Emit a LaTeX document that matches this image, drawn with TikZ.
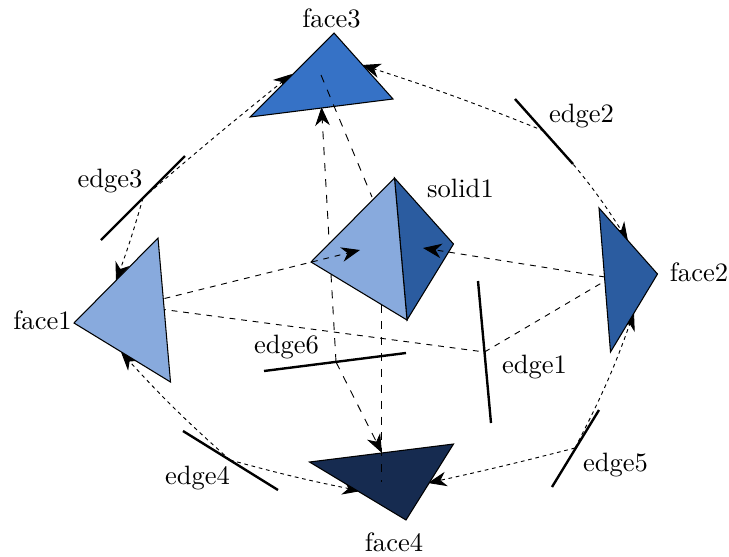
\documentclass[tikz,border=0pt]{standalone}
\usetikzlibrary{arrows.meta,calc}
\definecolor{flight}{HTML}{88AADD}
\definecolor{fmid}{HTML}{2B5CA0}
\definecolor{fbright}{HTML}{3672C6}
\definecolor{fdark}{HTML}{162B50}
\tikzset{
  facepoly/.style={draw=black,line width=0.4pt,line join=miter},
  edgeline/.style={draw=black,line width=0.9pt},
  tipped/.style={-{Stealth[length=7pt,width=5.5pt,inset=2.2pt]}},
  finedash/.style={line width=0.35pt,dash pattern=on 1.4pt off 1.4pt},
  middash/.style={line width=0.35pt,dash pattern=on 2.2pt off 2.2pt},
  longdash/.style={line width=0.35pt,dash pattern=on 3pt off 3pt},
  lab/.style={inner sep=0pt,font=\fontsize{10}{12}\selectfont}
}
\begin{document}
\begin{tikzpicture}[x=0.3765pt,y=-0.3765pt]
\useasboundingbox (0,0) rectangle (729,556);
% edge end points and midpoints
\coordinate (e1a) at (478,281); \coordinate (e1b) at (491,423); \coordinate (e1m) at (484.5,352);
\coordinate (e2a) at (515,99);  \coordinate (e2b) at (573,164); \coordinate (e2m) at (544,131);
\coordinate (e3a) at (101,240); \coordinate (e3b) at (185,156); \coordinate (e3m) at (143,198);
\coordinate (e4a) at (183,431); \coordinate (e4b) at (278,490); \coordinate (e4m) at (230,460);
\coordinate (e5a) at (552,487); \coordinate (e5b) at (599,410); \coordinate (e5m) at (575,448);
\coordinate (e6a) at (264,371); \coordinate (e6b) at (406,353); \coordinate (e6m) at (336,362);
% anchor points on faces
\coordinate (f1tipa) at (116,281); \coordinate (f1tipb) at (121,352);
\coordinate (f1s) at (164.5,298.5);    \coordinate (f1e) at (160,309);
\coordinate (f2tipa) at (628,241); \coordinate (f2tipb) at (634,312);
\coordinate (f2s) at (605,277);    \coordinate (f2e) at (610,278);
\coordinate (f3tipa) at (292,74);  \coordinate (f3tipb) at (362,65); \coordinate (f3tipc) at (321.5,107);
\coordinate (f3c) at (321,75);
\coordinate (f4tipa) at (361,491); \coordinate (f4tipb) at (428,483); \coordinate (f4tipc) at (382,453);
\coordinate (f4c) at (381.5,482);
\coordinate (s1tipa) at (360,250); \coordinate (s1tipb) at (423,248);
\coordinate (s1t) at (372,197);    \coordinate (s1b) at (381.5,305);
% connectors below the faces
\draw[finedash,tipped] (e3m) to[bend left=1] (f3tipa);
\draw[finedash,tipped] (e3m) to[bend left=2] (f1tipa);
\draw[finedash,tipped] (e2m) to[bend right=2] (f3tipb);
\draw[finedash,tipped] (e2m) to[bend left=5] (f2tipa);
\draw[finedash,tipped] (e5m) to[bend right=4] (f2tipb);
\draw[finedash,tipped] (e5m) to[bend left=1] (f4tipb);
\draw[finedash,tipped] (e4m) to[bend left=3] (f1tipb);
\draw[finedash,tipped] (e4m) to[bend right=2] (f4tipa);
\draw[middash] (f1e) -- (e1m);
\draw[middash] (e1m) -- (f2e);
\draw[longdash,tipped] (e6m) -- (f3tipc);
\draw[longdash,tipped] (e6m) -- (f4tipc);
% faces
\fill[fbright] (334,33) -- (393,99) -- (250,117) -- cycle;
\draw[facepoly] (334,33) -- (393,99) -- (250,117) -- cycle;
\fill[flight] (158,238) -- (170.5,382) -- (74,323) -- cycle;
\draw[facepoly] (158,238) -- (170.5,382) -- (74,323) -- cycle;
\fill[fmid] (599,208) -- (657.5,274) -- (610.5,352) -- cycle;
\draw[facepoly] (599,208) -- (657.5,274) -- (610.5,352) -- cycle;
\fill[fdark] (309.5,462) -- (453.5,444) -- (406,520) -- cycle;
\draw[facepoly] (309.5,462) -- (453.5,444) -- (406,520) -- cycle;
% solid
\fill[fmid] (394.5,178) -- (453.5,244) -- (407,320) -- cycle;
\draw[facepoly] (394.5,178) -- (453.5,244) -- (407,320) -- cycle;
\fill[flight] (394.5,178) -- (311,262) -- (407,320) -- cycle;
\draw[facepoly] (394.5,178) -- (311,262) -- (407,320) -- cycle;
% connectors over the faces
\draw[longdash] (f3c) -- (s1t);
\draw[longdash] (s1b) -- (f4c);
\draw[middash,tipped] (f1s) -- (s1tipa);
\draw[middash,tipped] (f2s) -- (s1tipb);
% edges
\draw[edgeline] (e1a) -- (e1b);
\draw[edgeline] (e2a) -- (e2b);
\draw[edgeline] (e3a) -- (e3b);
\draw[edgeline] (e4a) -- (e4b);
\draw[edgeline] (e5a) -- (e5b);
\draw[edgeline] (e6a) -- (e6b);
% labels
\node[lab] (lf1) at (42.5,320) {face1};
\node[lab] (lf2) at (699,272) {face2};
\node[lab] (lf3) at (331.5,18.5) {face3};
\node[lab] (lf4) at (394,542) {face4};
\node[lab] (ls1) at (460.5,188.5) {solid1};
\node[lab] (le1) at (534.5,367) {edge1};
\node[lab] (le2) at (581.5,116) {edge2};
\node[lab] (le3) at (110,181) {edge3};
\node[lab] (le4) at (197.5,478) {edge4};
\node[lab] (le5) at (615.5,465.5) {edge5};
\node[lab] (le6) at (286.5,347.5) {edge6};
\end{tikzpicture}
\end{document}
